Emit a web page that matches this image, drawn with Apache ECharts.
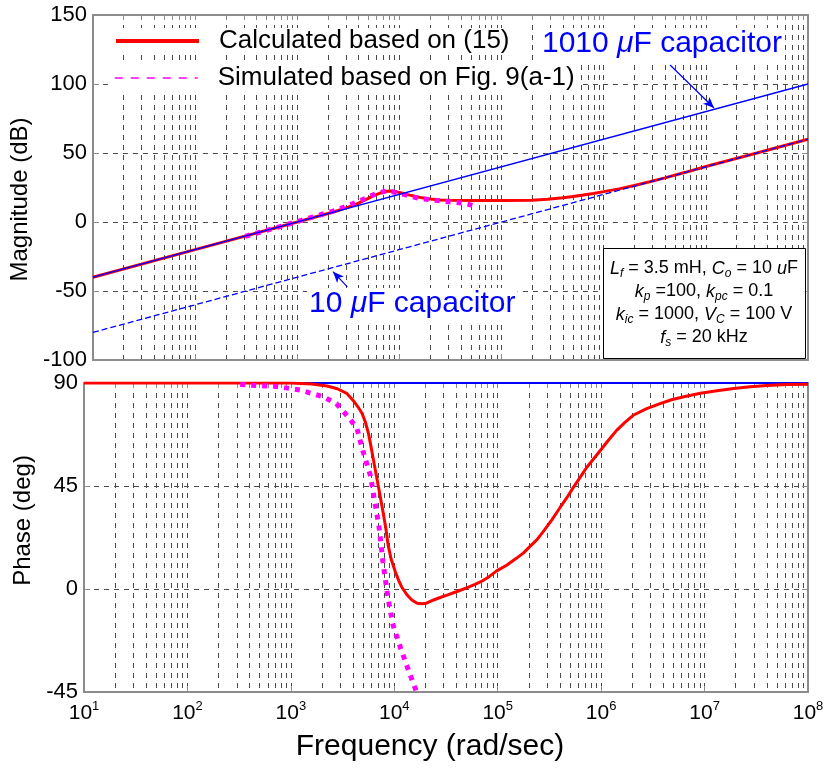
<!DOCTYPE html>
<html>
<head>
<meta charset="utf-8">
<script src="https://cdn.jsdelivr.net/npm/echarts@6/dist/echarts.min.js"></script>
<style>
  html, body { margin: 0; background: #fff; }
  #chart { width: 827px; height: 769px; }
</style>
</head>
<body>
<div id="chart"></div>
<script>
// values; x is log10 of frequency (rad/sec)
const decades = [1, 2, 3, 4, 5, 6, 7, 8]
const magTicks = [-100, -50, 0, 50, 100, 150]
const phaseTicks = [-45, 0, 45, 90]

// magnitude, calculated based on (15)
const magCalcExp = [1, 2, 3, 3.3, 3.4, 3.5, 3.58, 3.65, 3.72, 3.78, 3.83, 3.88, 3.92, 3.96, 4, 4.05, 4.1, 4.15, 4.22, 4.3, 4.4, 4.5, 4.75, 5, 5.3, 5.45, 5.6, 5.7, 5.8, 5.9, 6, 6.15, 6.3, 6.45, 6.6, 6.8, 7, 7.5, 8]
const magCalcDb = [-40, -20, 0, 6.2, 8.3, 10.8, 13, 15.5, 18, 20, 21.5, 22.3, 22.4, 22, 21.4, 20.5, 19.5, 18.6, 17.5, 16.6, 16, 15.7, 15.5, 15.5, 15.8, 16.5, 17.6, 18.5, 19.5, 20.7, 22, 24, 26.5, 29.2, 32, 36, 40.2, 50, 60]

// magnitude, simulated (Fig. 9(a-1))
const magSimExp = [2.49, 2.83, 3.15, 3.38, 3.54, 3.67, 3.77, 3.88, 3.99, 4.2, 4.41, 4.64, 4.73]
const magSimDb = [-10.4, -3.4, 3.6, 8.5, 13.2, 17.1, 20.6, 22.6, 21, 17, 15.2, 13.5, 11.8]

// capacitor-only asymptotes
const cap1010Exp = [1, 8]
const cap1010Db = [-40, 100]
const cap10Exp = [1, 8]
const cap10Db = [-80, 60]

// phase, calculated
const phCalcExp = [1, 3, 3.2, 3.35, 3.45, 3.54, 3.6, 3.65, 3.69, 3.72, 3.75, 3.77, 3.8, 3.83, 3.86, 3.89, 3.92, 3.94, 3.97, 4.01, 4.04, 4.07, 4.12, 4.17, 4.22, 4.27, 4.31, 4.38, 4.45, 4.51, 4.6, 4.7, 4.78, 4.85, 4.92, 4.99, 5.09, 5.18, 5.25, 5.31, 5.38, 5.44, 5.52, 5.6, 5.67, 5.73, 5.8, 5.86, 5.93, 5.99, 6.07, 6.15, 6.23, 6.31, 6.44, 6.57, 6.68, 6.8, 6.96, 7.12, 7.28, 7.44, 7.6, 7.8, 8]
const phCalcDeg = [90, 90, 89.6, 88.7, 87.5, 85.5, 82.5, 79.5, 76.6, 73, 68, 63.4, 56, 48.7, 41.5, 34, 26, 19.3, 13, 7.5, 4, 1, -2.4, -4.8, -6.2, -6.4, -6.2, -4.8, -3.6, -2.7, -1.2, 0.5, 2, 3.5, 5.5, 7.9, 10.5, 13.4, 15.8, 18.5, 21.6, 25.1, 30, 35.4, 40, 44.3, 49, 53.1, 57, 60.4, 65, 69.3, 72.8, 75.9, 78.8, 81, 82.7, 84, 85.5, 86.6, 87.6, 88.4, 88.9, 89.3, 89.5]

// phase, simulated
const phSimExp = [2.51, 2.86, 3.09, 3.31, 3.44, 3.57, 3.64, 3.7, 3.77, 3.81, 3.85, 3.89, 3.94, 3.99, 4.06, 4.14, 4.22]
const phSimDeg = [89.3, 88.5, 86.9, 84, 81, 74.4, 70, 59.7, 49.4, 38.4, 28.1, 11.9, -4.3, -16.1, -25.6, -35.9, -45.5]

const phCapExp = [1, 8]
const phCapDeg = [90, 90]

function pairs(xs, ys) {
  return xs.map((x, i) => [x, ys[i]])
}

// log grid positions (1..9 inside each decade)
let minorPos = []
decades.slice(0, -1).forEach(d => {
  for (let k = 1; k <= 9; k++) minorPos.push(d + Math.log10(k))
})
minorPos.push(8)

const FONT = "'Liberation Sans', Arial, sans-serif"
const gridLine = { show: true, lineStyle: { color: '#4a4a4a', width: 1, type: [5, 5] } }
const frame = { show: true, onZero: false, lineStyle: { color: '#8c8c8c', width: 2 } }

function xAxes(gridIndex, withLabels) {
  return [{
    gridIndex: gridIndex, type: 'value', position: 'bottom', min: 1, max: 8, interval: 1,
    axisLine: frame,
    axisTick: { show: true, inside: true, length: 6, lineStyle: { color: '#8c8c8c' } },
    axisLabel: {
      show: withLabels, margin: 8, color: '#000', fontFamily: FONT,
      formatter: v => '{b|10}{s|' + v + '}',
      rich: {
        b: { fontSize: 21, fontFamily: FONT, color: '#000', lineHeight: 26 },
        s: { fontSize: 13, fontFamily: FONT, color: '#000', lineHeight: 14, verticalAlign: 'top' }
      }
    },
    splitLine: gridLine,
    name: withLabels ? 'Frequency (rad/sec)' : '',
    nameLocation: 'middle', nameGap: 40,
    nameTextStyle: { fontSize: 30, color: '#000', fontFamily: FONT, padding: [0, 32, 0, 0] }
  }, {
    gridIndex: gridIndex, type: 'value', position: 'top', min: 1, max: 8,
    axisLine: frame,
    axisTick: { show: true, inside: true, length: 5, customValues: minorPos, lineStyle: { color: '#8c8c8c' } },
    axisLabel: { show: false, customValues: minorPos },
    splitLine: gridLine
  }]
}

function yAxes(gridIndex, min, max, step, name, namePad) {
  return [{
    gridIndex: gridIndex, type: 'value', position: 'left', min: min, max: max, interval: step,
    axisLine: frame,
    axisTick: { show: true, inside: true, length: 6, lineStyle: { color: '#8c8c8c' } },
    axisLabel: { fontSize: 22, color: '#000', fontFamily: FONT, margin: 6 },
    splitLine: gridLine,
    name: name, nameLocation: 'middle', nameGap: 44,
    nameTextStyle: { fontSize: 24, color: '#000', fontFamily: FONT, padding: namePad }
  }, {
    gridIndex: gridIndex, type: 'value', position: 'right', min: min, max: max, interval: step,
    axisLine: frame,
    axisTick: { show: true, inside: true, length: 6, lineStyle: { color: '#8c8c8c' } },
    axisLabel: { show: false },
    splitLine: { show: false }
  }]
}

const RED = '#ff0000', MAG = '#ff00ff', BLUE = '#0000ff'
const calcName = 'Calculated based on (15)'
const simName = 'Simulated based on Fig. 9(a-1)'

let chart = echarts.init(document.getElementById('chart'))
chart.setOption({
  animation: false,
  backgroundColor: '#fff',
  textStyle: { fontFamily: FONT },
  grid: [
    { left: 84, top: 15, width: 724, height: 345 },
    { left: 84, top: 383, width: 724, height: 309 }
  ],
  xAxis: xAxes(0, false).concat(xAxes(1, true)),
  yAxis: yAxes(0, -100, 150, 50, 'Magnitude (dB)', [0, 24, 0, 0]).concat(yAxes(1, -45, 90, 45, 'Phase (deg)', [0, 0, 0, 34])),
  legend: [{
    data: [calcName], left: 110, top: 28, padding: [0, 4], backgroundColor: '#fff',
    selectedMode: false, itemWidth: 83, itemHeight: 14,
    lineStyle: { width: 4 }, itemStyle: { opacity: 0 },
    textStyle: { fontSize: 26, color: '#000', fontFamily: FONT, padding: [0, 0, 0, 15] }
  }, {
    data: [simName], left: 110, top: 65, padding: [0, 4], backgroundColor: '#fff',
    selectedMode: false, itemWidth: 83, itemHeight: 14,
    lineStyle: { width: 1.5, type: [8, 8] }, itemStyle: { opacity: 0 },
    textStyle: { fontSize: 26, color: '#000', fontFamily: FONT, padding: [0, 0, 0, 15] }
  }],
  series: [
    {
      name: calcName, type: 'line', xAxisIndex: 0, yAxisIndex: 0, symbol: 'none',
      lineStyle: { color: RED, width: 3 }, itemStyle: { color: RED },
      data: pairs(magCalcExp, magCalcDb)
    },
    {
      name: simName, type: 'line', xAxisIndex: 0, yAxisIndex: 0, symbol: 'none',
      lineStyle: { color: MAG, width: 5, type: [5, 6] }, itemStyle: { color: MAG },
      data: pairs(magSimExp, magSimDb)
    },
    {
      name: '1010 uF', type: 'line', xAxisIndex: 0, yAxisIndex: 0, symbol: 'none',
      lineStyle: { color: BLUE, width: 1.3 },
      data: pairs(cap1010Exp, cap1010Db),
      markLine: {
        silent: true, symbol: ['none', 'arrow'], symbolSize: [7, 11],
        lineStyle: { color: BLUE, width: 1.2, type: 'solid' }, label: { show: false },
        data: [
          [{ coord: [6.65, 113.8] }, { coord: [7.08, 82.6] }],
          [{ coord: [3.49, -47] }, { coord: [3.35, -36] }]
        ]
      }
    },
    {
      name: '10 uF', type: 'line', xAxisIndex: 0, yAxisIndex: 0, symbol: 'none',
      lineStyle: { color: BLUE, width: 1.3, type: [6, 3] },
      data: pairs(cap10Exp, cap10Db)
    },
    {
      name: 'phase 1010 uF', type: 'line', xAxisIndex: 2, yAxisIndex: 2, symbol: 'none',
      lineStyle: { color: BLUE, width: 2 },
      data: pairs(phCapExp, phCapDeg)
    },
    {
      name: calcName, type: 'line', xAxisIndex: 2, yAxisIndex: 2, symbol: 'none',
      lineStyle: { color: RED, width: 3 }, itemStyle: { color: RED },
      data: pairs(phCalcExp, phCalcDeg)
    },
    {
      name: simName, type: 'line', xAxisIndex: 2, yAxisIndex: 2, symbol: 'none',
      lineStyle: { color: MAG, width: 5, type: [5, 6] }, itemStyle: { color: MAG },
      data: pairs(phSimExp, phSimDeg)
    }
  ],
  graphic: [
    {
      type: 'text', left: 540, top: 28, z: 10,
      style: {
        text: '1010 {i|\u03bc}F capacitor', fill: BLUE, font: '30px ' + FONT,
        backgroundColor: '#fff', padding: [1, 2],
        rich: { i: { fontSize: 30, fontStyle: 'italic', fontFamily: FONT, fill: BLUE } }
      }
    },
    {
      type: 'text', left: 307, top: 288, z: 10,
      style: {
        text: '10 {i|\u03bc}F capacitor', fill: BLUE, font: '30px ' + FONT,
        backgroundColor: '#fff', padding: [1, 2],
        rich: { i: { fontSize: 30, fontStyle: 'italic', fontFamily: FONT, fill: BLUE } }
      }
    },
    {
      type: 'rect', z: 10,
      shape: { x: 603.5, y: 248.5, width: 202, height: 110 },
      style: { fill: '#fff', stroke: '#000', lineWidth: 1 }
    },
    {
      type: 'text', z: 11, x: 704, y: 257,
      style: {
        text: [
          '{i|L}{sub|f}{n| = 3.5 mH, }{i|C}{sub|o}{n| = 10 }{i|u}{n|F}',
          '{i|k}{sub|p}{n| =100, }{i|k}{sub|pc}{n| = 0.1}',
          '{i|k}{sub|ic}{n| = 1000, }{i|V}{sub|C}{n| = 100 V}',
          '{i|f}{sub|s}{n| = 20 kHz}'
        ].join('\n'),
        align: 'center', verticalAlign: 'top', fill: '#000',
        rich: {
          n: { fontSize: 18, fontFamily: FONT, fill: '#000', lineHeight: 23 },
          i: { fontSize: 18, fontFamily: FONT, fontStyle: 'italic', fill: '#000', lineHeight: 23 },
          sub: { fontSize: 12, fontFamily: FONT, fontStyle: 'italic', fill: '#000', lineHeight: 12, verticalAlign: 'bottom' }
        }
      }
    }
  ]
})
</script>
</body>
</html>
